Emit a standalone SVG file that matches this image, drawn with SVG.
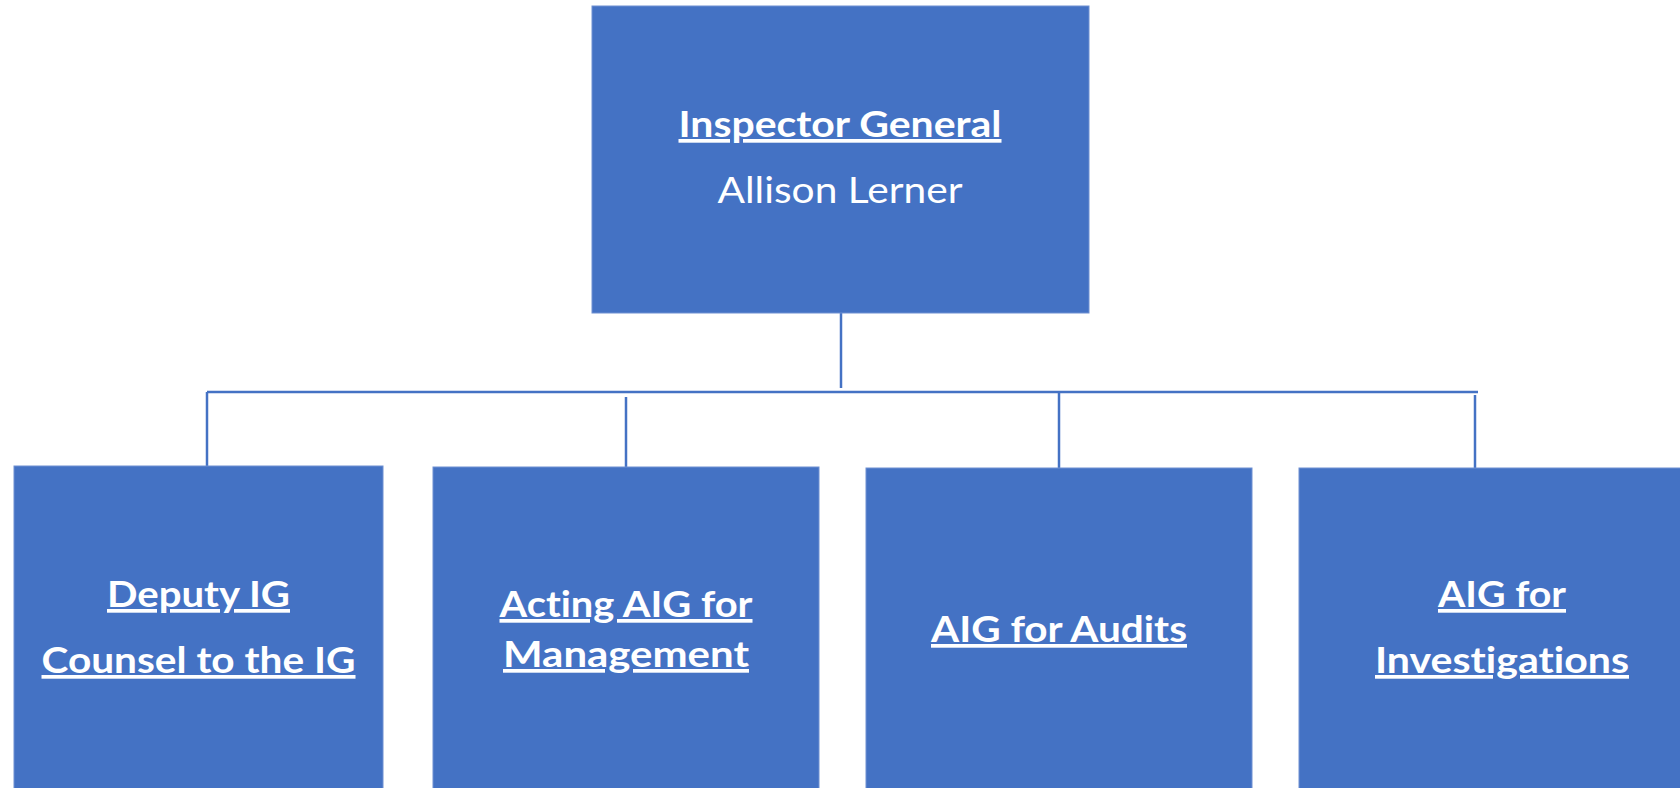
<svg xmlns="http://www.w3.org/2000/svg" width="1680" height="788" viewBox="0 0 1680 788">
<style>
.box{fill:#4472C4;stroke:#6E90D2;stroke-width:1}
.conn{stroke:#4472C4;stroke-width:2.5;fill:none}
.t{font-family:Lato,"Open Sans","Liberation Sans",sans-serif;font-size:37px;fill:#FFFFFF;text-anchor:middle;font-variant-ligatures:none;font-feature-settings:"liga" 0,"dlig" 0,"clig" 0}
.b{font-weight:bold;text-decoration:underline}
</style>
<rect width="1680" height="788" fill="#FFFFFF"/>
<g id="connectors">
<line class="conn" x1="841" y1="313" x2="841" y2="388"/>
<line class="conn" x1="207" y1="392" x2="1478" y2="392"/>
<line class="conn" x1="207" y1="392" x2="207" y2="466"/>
<line class="conn" x1="626" y1="397" x2="626" y2="467"/>
<line class="conn" x1="1059" y1="392" x2="1059" y2="468"/>
<line class="conn" x1="1475" y1="395" x2="1475" y2="468"/>
</g>
<g id="inspector-general">
<rect class="box" x="592" y="6" width="497" height="307"/>
<text class="t b" x="840" y="137" textLength="323" lengthAdjust="spacingAndGlyphs">Inspector General</text>
<text class="t" x="840" y="203" textLength="245" lengthAdjust="spacingAndGlyphs">Allison Lerner</text>
</g>
<g id="deputy-ig">
<rect class="box" x="14" y="466" width="369" height="330"/>
<text class="t b" x="198.5" y="607" textLength="183" lengthAdjust="spacingAndGlyphs">Deputy IG</text>
<text class="t b" x="198.5" y="673" textLength="314" lengthAdjust="spacingAndGlyphs">Counsel to the IG</text>
</g>
<g id="aig-management">
<rect class="box" x="433" y="467" width="386" height="330"/>
<text class="t b" x="626" y="617" textLength="253" lengthAdjust="spacingAndGlyphs">Acting AIG for</text>
<text class="t b" x="626" y="667" textLength="246" lengthAdjust="spacingAndGlyphs">Management</text>
</g>
<g id="aig-audits">
<rect class="box" x="866" y="468" width="386" height="330"/>
<text class="t b" x="1059" y="642" textLength="256" lengthAdjust="spacingAndGlyphs">AIG for Audits</text>
</g>
<g id="aig-investigations">
<rect class="box" x="1299" y="468" width="406" height="330"/>
<text class="t b" x="1502" y="607" textLength="128" lengthAdjust="spacingAndGlyphs">AIG for</text>
<text class="t b" x="1502" y="673" textLength="254" lengthAdjust="spacingAndGlyphs">Investigations</text>
</g>
</svg>
